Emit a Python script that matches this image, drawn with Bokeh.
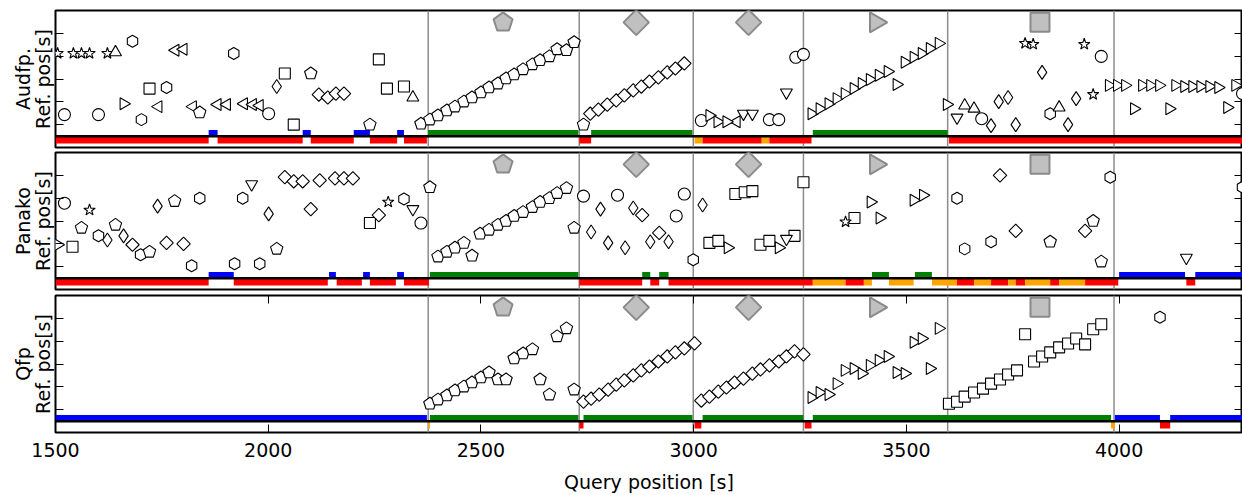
import math
from bokeh.plotting import figure
from bokeh.layouts import column
from bokeh.models import Span, LinearAxis, FixedTicker, Range1d, CustomJSTickFormatter
from bokeh.embed import file_html
from bokeh.resources import INLINE

# ---------------- axes ----------------
x_ticks = [1500, 2000, 2500, 3000, 3500, 4000]
y_ticks = [0, 100, 200, 300, 400]
x_lo, x_hi = 1500, 4290
y_lo, y_hi = -100, 500
x_label = "Query position [s]"
y_label = "Ref. pos[s]"
panel_names = ["Audfp.", "Panako", "Qfp"]

# ground-truth segments of the query
segment_bounds = [2376, 2731, 2999, 3258, 3597, 3988]
expected_x = [2552, 2865, 3129, 3428, 3814]
expected_kind = ["pentagon", "fat_diamond", "fat_diamond", "tri_right", "square"]
expected_y = 448

# ---------------- Audfp. ----------------
audfp_circle_x = [1521, 1601, 2001, 3018, 3178, 3200, 3240, 3258, 3677, 3958, 4290]
audfp_circle_y = [44, 44, 48, 18, 22, 22, 295, 308, 26, 299, 136]
audfp_hex_x = [1681, 1702, 1761, 1919, 3838]
audfp_hex_y = [365, 22, 163, 312, 48]
audfp_star_x = [1505, 1542, 1561, 1580, 1622, 3779, 3798, 3918, 3939]
audfp_star_y = [312, 312, 312, 312, 312, 356, 352, 352, 132]
audfp_tri_up_x = [1641, 2340, 3637, 3659, 3859]
audfp_tri_up_y = [317, 119, 84, 70, 75]
audfp_tri_down_x = [3117, 3138, 3218, 3619]
audfp_tri_down_y = [48, 48, 141, 31]
audfp_tri_right_x = [1660, 3037, 3056, 3077, 3277, 3296, 3317, 3336, 3355, 3376, 3395, 3414,
                     3435, 3456, 3477, 3496, 3517, 3536, 3555, 3576, 3595, 3976, 3995, 4014,
                     4035, 4054, 4073, 4094, 4118, 4132, 4153, 4172, 4191, 4212, 4233, 4254, 4273]
audfp_tri_right_y = [92, 40, 13, 13, 48, 70, 92, 114, 136, 158, 180, 198,
                     216, 233, 176, 273, 295, 312, 334, 356, 88, 172, 172, 172,
                     70, 172, 172, 172, 70, 172, 167, 167, 167, 167, 163, 75, 172]
audfp_tri_left_x = [1742, 1782, 1801, 1823, 1881, 1903, 1943, 1964, 1980, 3101]
audfp_tri_left_y = [79, 326, 330, 79, 88, 88, 92, 88, 84, 13]
audfp_pentagon_x = [1839, 2100, 2239, 2359, 2380, 2399, 2420, 2439, 2460, 2479, 2500, 2519,
                    2540, 2559, 2578, 2599, 2621, 2639, 2661, 2679, 2701, 2719, 2741]
audfp_pentagon_y = [53, 224, 0, 4, 22, 40, 62, 79, 101, 119, 141, 163,
                    180, 202, 220, 242, 264, 282, 299, 330, 326, 361, 0]
audfp_square_x = [1721, 2039, 2060, 2260, 2279, 2319]
audfp_square_y = [158, 224, 0, 286, 158, 167]
audfp_thin_diamond_x = [2020, 3699, 3717, 3739, 3757, 3819, 3880, 3899]
audfp_thin_diamond_y = [167, -4, 101, 119, 0, 229, 0, 114]
audfp_fat_diamond_x = [2119, 2140, 2159, 2178, 2757, 2776, 2797, 2818, 2837, 2858, 2877, 2896,
                       2917, 2938, 2957, 2978]
audfp_fat_diamond_y = [132, 119, 136, 136, 48, 66, 88, 106, 128, 150, 167, 189,
                       207, 229, 246, 268]
audfp_upper_left = [1860, 2081, 2201, 2303, 2376, 2759, 3280]
audfp_upper_right = [1881, 2100, 2239, 2319, 2729, 2997, 3597]
audfp_upper_kind = ["none", "none", "none", "none", "correct", "correct", "correct"]
audfp_lower_left = [1500, 1881, 2100, 2239, 2319, 2731, 3002, 3021, 3160, 3178, 3600]
audfp_lower_right = [1860, 2081, 2201, 2303, 2373, 2759, 3021, 3160, 3178, 3277, 4294]
audfp_lower_kind = ["wrong", "wrong", "wrong", "wrong", "wrong", "wrong", "partial", "wrong",
                    "partial", "wrong", "wrong"]

# ---------------- Panako ----------------
panako_circle_x = [1521, 2359, 2741, 2821, 2959, 2978]
panako_circle_y = [278, 191, 309, 313, 222, 318]
panako_square_x = [1540, 2239, 3037, 3058, 3098, 3120, 3138, 3157, 3178, 3237, 3258, 3378]
panako_square_y = [87, 191, 104, 113, 318, 326, 331, 96, 113, 135, 370, 213]
panako_star_x = [1580, 2282, 3357]
panako_star_y = [248, 283, 196]
panako_pentagon_x = [1561, 1641, 1721, 1780, 2020, 2380, 2399, 2420, 2439, 2460, 2479, 2498,
                     2519, 2540, 2559, 2578, 2599, 2621, 2639, 2661, 2679, 2701, 2719, 3838,
                     3939, 3958]
panako_pentagon_y = [170, 183, 65, 287, 78, 348, 44, 65, 83, 104, 48, 144,
                     161, 183, 200, 222, 239, 261, 283, 300, 322, 344, 170, 109,
                     200, 22]
panako_hex_x = [1601, 1700, 1820, 1839, 1921, 1940, 1980, 2319, 2999, 3619, 3637, 3699, 3979, 4290]
panako_hex_y = [135, 52, 4, 300, 13, 300, 13, 296, 30, 300, 78, 109, 392, 348]
panako_thin_diamond_x = [1622, 1660, 1740, 2001, 2759, 2781, 2799, 2839, 2858, 2898, 2941, 3021]
panako_thin_diamond_y = [117, 135, 265, 231, 152, 252, 104, 83, 257, 109, 109, 270]
panako_fat_diamond_x = [1681, 1761, 1801, 2039, 2060, 2081, 2100, 2121, 2157, 2178, 2199, 2260,
                        2879, 2919, 3720, 3757, 3920]
panako_fat_diamond_y = [96, 104, 100, 392, 374, 374, 252, 378, 387, 387, 387, 226,
                        226, 148, 400, 157, 157]
panako_tri_down_x = [1961, 2340, 3218, 4158]
panako_tri_down_y = [361, 252, 122, 39]
panako_tri_right_x = [1505, 3080, 3200, 3416, 3437, 3517, 3539]
panako_tri_right_y = [96, 83, 83, 283, 213, 291, 313]
panako_upper_left = [1860, 2143, 2223, 2303, 2380, 2879, 2919, 3419, 3520, 4000, 4179]
panako_upper_right = [1919, 2159, 2239, 2319, 2729, 2898, 2941, 3459, 3560, 4155, 4294]
panako_upper_kind = ["none", "none", "none", "none", "correct", "correct", "correct",
                     "correct", "correct", "none", "none"]
panako_lower_left = [1500, 1919, 2161, 2239, 2319, 2731, 2898, 2941, 3280, 3357, 3400, 3459,
                     3560, 3619, 3659, 3699, 3739, 3757, 3779, 3838, 3859, 3920, 4158]
panako_lower_right = [1860, 2140, 2220, 2300, 2378, 2879, 2919, 3280, 3357, 3400, 3419, 3517,
                      3619, 3659, 3699, 3739, 3757, 3779, 3838, 3859, 3920, 3998, 4179]
panako_lower_kind = ["wrong", "wrong", "wrong", "wrong", "wrong", "wrong", "wrong", "wrong",
                     "partial", "wrong", "partial", "partial", "partial", "wrong", "partial",
                     "wrong", "partial", "wrong", "partial", "wrong", "partial", "wrong", "wrong"]

# ---------------- Qfp ----------------
qfp_pentagon_x = [2380, 2399, 2420, 2439, 2460, 2479, 2500, 2519, 2540, 2559, 2578, 2599,
                  2621, 2639, 2661, 2679, 2701, 2719]
qfp_pentagon_y = [26, 44, 62, 84, 101, 119, 141, 163, 132, 132, 224, 246,
                  264, 132, 66, 321, 356, 88]
qfp_fat_diamond_x = [2741, 2759, 2778, 2799, 2818, 2837, 2858, 2877, 2896, 2917, 2938, 2957,
                     2978, 3002, 3018, 3037, 3058, 3077, 3096, 3117, 3138, 3157, 3178, 3200,
                     3218, 3237, 3258]
qfp_fat_diamond_y = [35, 48, 66, 88, 110, 128, 150, 172, 189, 211, 233, 251,
                     268, 290, 40, 57, 79, 97, 119, 136, 158, 176, 194, 211,
                     233, 255, 242]
qfp_tri_right_x = [3277, 3296, 3317, 3336, 3355, 3376, 3395, 3414, 3435, 3456, 3477, 3496,
                   3517, 3536, 3555, 3576]
qfp_tri_right_y = [53, 75, 66, 114, 172, 180, 158, 194, 216, 233, 163, 158,
                   295, 312, 180, 356]
qfp_square_x = [3600, 3619, 3637, 3659, 3680, 3699, 3720, 3739, 3760, 3779, 3800, 3819,
                3838, 3859, 3880, 3899, 3920, 3939, 3958]
qfp_square_y = [26, 35, 57, 75, 92, 114, 132, 154, 172, 330, 211, 233,
                251, 273, 290, 312, 286, 352, 374]
qfp_hex_x = [4096]
qfp_hex_y = [405]
qfp_upper_left = [1500, 2380, 2741, 3021, 3280, 3990, 4120]
qfp_upper_right = [2373, 2729, 2997, 3258, 3981, 4096, 4294]
qfp_upper_kind = ["none", "correct", "correct", "correct", "correct", "none", "none"]
qfp_lower_left = [2376, 2731, 3002, 3261, 3981, 4096]
qfp_lower_right = [2380, 2741, 3018, 3277, 3990, 4120]
qfp_lower_kind = ["partial", "wrong", "wrong", "wrong", "partial", "wrong"]

# ---------------- styles ----------------
FONT = "DejaVu Sans"
BAR_COLORS = {"none": "#0000ff", "correct": "#008000", "wrong": "#ff0000", "partial": "#ffa500"}
MARKERS = {
    "circle": ("circle", 0.0, 12),
    "square": ("square", 0.0, 11),
    "fat_diamond": ("square", math.pi / 4, 9.5),
    "thin_diamond": ("diamond", 0.0, 14),
    "tri_up": ("triangle", 0.0, 12),
    "tri_down": ("inverted_triangle", 0.0, 12),
    "tri_right": ("triangle", -math.pi / 2, 12),
    "tri_left": ("triangle", math.pi / 2, 12),
    "hex": ("hex", math.pi / 2, 12),
    "star": ("star", 0.0, 12),
}
EXP_SIZES = {"pentagon": 10, "fat_diamond": 18, "tri_right": 20, "square": 19}
PENT_ANGLE = 0.0


def draw_kind(p, kind, xs, ys, scale=1.0, fill="white", line="black", lw=1.1):
    if kind == "pentagon":
        p.ngon(x=xs, y=ys, radius=6.5 * scale, radius_units="screen", n=5, angle=PENT_ANGLE,
               fill_color=fill, line_color=line, line_width=lw)
    else:
        m, ang, sz = MARKERS[kind]
        p.scatter(x=xs, y=ys, marker=m, angle=ang, size=sz * scale,
                  fill_color=fill, line_color=line, line_width=lw)


def blank_axis_style(ax):
    ax.ticker = FixedTicker(ticks=y_ticks)
    ax.formatter = CustomJSTickFormatter(code="return ''")
    ax.major_tick_in = 8
    ax.major_tick_out = 0
    ax.minor_tick_line_color = None
    ax.axis_line_color = None
    ax.major_tick_line_color = "black"
    ax.major_tick_line_width = 1
    ax.major_label_text_font_size = "0px"
    ax.major_label_standoff = 0


def make_panel(name, markers, upper, lower, height, b_top, b_bottom, bottom_axis):
    p = figure(width=1242, height=height,
               x_range=Range1d(x_lo, x_hi), y_range=Range1d(y_lo, y_hi),
               output_backend="svg", toolbar_location=None,
               x_axis_location="below" if bottom_axis else None,
               min_border_left=55, min_border_right=0,
               min_border_top=b_top, min_border_bottom=b_bottom)
    p.grid.visible = False
    p.outline_line_color = "black"
    p.outline_line_width = 2
    p.border_fill_color = "white"

    ya = p.yaxis[0]
    blank_axis_style(ya)
    ya.axis_label = name + "\n" + y_label
    ya.axis_label_text_font = FONT
    ya.axis_label_text_font_size = "19px"
    ya.axis_label_text_font_style = "normal"
    ya.axis_label_text_color = "black"
    ya.axis_label_text_line_height = 0.9
    ya.axis_label_standoff = 2

    ra = LinearAxis()
    blank_axis_style(ra)
    ra.axis_label_standoff = 0
    p.add_layout(ra, "right")

    if bottom_axis:
        xa = p.xaxis[0]
        xa.ticker = FixedTicker(ticks=x_ticks)
        xa.major_tick_in = 8
        xa.major_tick_out = 0
        xa.minor_tick_line_color = None
        xa.axis_line_color = None
        xa.major_tick_line_color = "black"
        xa.major_label_text_font = FONT
        xa.major_label_text_font_size = "19px"
        xa.major_label_text_color = "black"
        xa.major_label_standoff = 10
        xa.axis_label = x_label
        xa.axis_label_text_font = FONT
        xa.axis_label_text_font_size = "19px"
        xa.axis_label_text_font_style = "normal"
        xa.axis_label_text_color = "black"
        xa.axis_label_standoff = 11
        ta = LinearAxis()
        ta.ticker = FixedTicker(ticks=x_ticks)
        ta.formatter = CustomJSTickFormatter(code="return ''")
        ta.major_tick_in = 8
        ta.major_tick_out = 0
        ta.minor_tick_line_color = None
        ta.axis_line_color = None
        ta.major_label_text_font_size = "0px"
        ta.major_label_standoff = 0
        p.add_layout(ta, "above")

    # status bars
    ul, ur, uk = upper
    p.quad(left=ul, right=ur, bottom=-50, top=-23,
           fill_color=[BAR_COLORS[k] for k in uk], line_color=None)
    ll, lr, lk = lower
    p.quad(left=ll, right=lr, bottom=-82, top=-52,
           fill_color=[BAR_COLORS[k] for k in lk], line_color=None)

    for b in segment_bounds:
        p.add_layout(Span(location=b, dimension="height", line_color="#8c8c8c",
                          line_width=1.5, level="underlay"))
    p.add_layout(Span(location=-51, dimension="width", line_color="black", line_width=2.5))

    # expected pattern markers
    for ex, ek in zip(expected_x, expected_kind):
        if ek == "pentagon":
            p.ngon(x=[ex], y=[expected_y], radius=EXP_SIZES[ek], radius_units="screen", n=5,
                   angle=PENT_ANGLE, fill_color="#c0c0c0", line_color="#8a8a8a", line_width=2)
        else:
            m, ang, _ = MARKERS[ek]
            p.scatter(x=[ex], y=[expected_y], marker=m, angle=ang, size=EXP_SIZES[ek],
                      fill_color="#c0c0c0", line_color="#8a8a8a", line_width=2)

    for kind, (xs, ys) in markers.items():
        draw_kind(p, kind, xs, ys)
    return p


audfp_markers = {
    "square": (audfp_square_x, audfp_square_y),
    "circle": (audfp_circle_x, audfp_circle_y),
    "hex": (audfp_hex_x, audfp_hex_y),
    "star": (audfp_star_x, audfp_star_y),
    "tri_up": (audfp_tri_up_x, audfp_tri_up_y),
    "tri_down": (audfp_tri_down_x, audfp_tri_down_y),
    "tri_left": (audfp_tri_left_x, audfp_tri_left_y),
    "tri_right": (audfp_tri_right_x, audfp_tri_right_y),
    "thin_diamond": (audfp_thin_diamond_x, audfp_thin_diamond_y),
    "fat_diamond": (audfp_fat_diamond_x, audfp_fat_diamond_y),
    "pentagon": (audfp_pentagon_x, audfp_pentagon_y),
}
panako_markers = {
    "square": (panako_square_x, panako_square_y),
    "circle": (panako_circle_x, panako_circle_y),
    "hex": (panako_hex_x, panako_hex_y),
    "star": (panako_star_x, panako_star_y),
    "tri_down": (panako_tri_down_x, panako_tri_down_y),
    "tri_right": (panako_tri_right_x, panako_tri_right_y),
    "thin_diamond": (panako_thin_diamond_x, panako_thin_diamond_y),
    "fat_diamond": (panako_fat_diamond_x, panako_fat_diamond_y),
    "pentagon": (panako_pentagon_x, panako_pentagon_y),
}
qfp_markers = {
    "hex": (qfp_hex_x, qfp_hex_y),
    "square": (qfp_square_x, qfp_square_y),
    "tri_right": (qfp_tri_right_x, qfp_tri_right_y),
    "fat_diamond": (qfp_fat_diamond_x, qfp_fat_diamond_y),
    "pentagon": (qfp_pentagon_x, qfp_pentagon_y),
}

p1 = make_panel(panel_names[0], audfp_markers,
                (audfp_upper_left, audfp_upper_right, audfp_upper_kind),
                (audfp_lower_left, audfp_lower_right, audfp_lower_kind),
                149, 10, 2, False)
p2 = make_panel(panel_names[1], panako_markers,
                (panako_upper_left, panako_upper_right, panako_upper_kind),
                (panako_lower_left, panako_lower_right, panako_lower_kind),
                143, 3, 3, False)
p3 = make_panel(panel_names[2], qfp_markers,
                (qfp_upper_left, qfp_upper_right, qfp_upper_kind),
                (qfp_lower_left, qfp_lower_right, qfp_lower_kind),
                203, 3, 63, True)

layout = column(p1, p2, p3, spacing=0)
open("out.html", "w").write(file_html(layout, INLINE))
